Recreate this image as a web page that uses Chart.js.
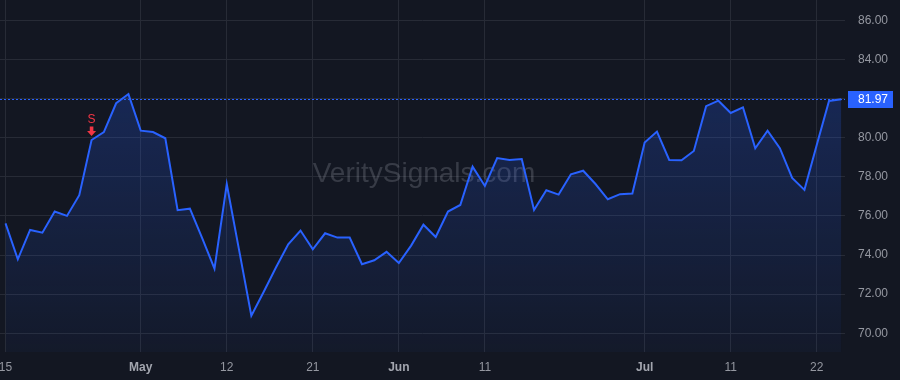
<!DOCTYPE html>
<html>
<head>
<meta charset="utf-8">
<script src="https://cdn.jsdelivr.net/npm/chart.js@4.4.1/dist/chart.umd.min.js"></script>
<style>
  html, body { margin: 0; padding: 0; background: #131722; }
  canvas { display: block; }
</style>
</head>
<body>
<canvas id="myChart" width="900" height="380"></canvas>
<script>
  // trading days, Apr 15 - Jul 24
  var dates = [
    'Apr 15','Apr 16','Apr 17','Apr 21','Apr 22','Apr 23','Apr 24','Apr 25','Apr 28','Apr 29','Apr 30',
    'May 1','May 2','May 5','May 6','May 7','May 8','May 9','May 12','May 13','May 14','May 15','May 16',
    'May 19','May 20','May 21','May 22','May 23','May 27','May 28','May 29','May 30',
    'Jun 2','Jun 3','Jun 4','Jun 5','Jun 6','Jun 9','Jun 10','Jun 11','Jun 12','Jun 13','Jun 16','Jun 17',
    'Jun 18','Jun 20','Jun 23','Jun 24','Jun 25','Jun 26','Jun 27','Jun 30',
    'Jul 1','Jul 2','Jul 3','Jul 7','Jul 8','Jul 9','Jul 10','Jul 11','Jul 14','Jul 15','Jul 16','Jul 17',
    'Jul 18','Jul 21','Jul 22','Jul 23','Jul 24'
  ];
  var prices = [
    75.62, 73.78, 75.28, 75.14, 76.22, 76.00, 77.06, 79.88, 80.28, 81.76, 82.23,
    80.36, 80.29, 79.97, 76.29, 76.37, 74.86, 73.30, 77.62, 74.26, 70.90, 72.11,
    73.36, 74.55, 75.25, 74.29, 75.11, 74.89, 74.89, 73.53, 73.73, 74.16,
    73.59, 74.48, 75.55, 74.92, 76.22, 76.56, 78.52, 77.53, 78.96, 78.86, 78.91,
    76.30, 77.31, 77.09, 78.13, 78.31, 77.63, 76.85, 77.11, 77.14,
    79.75, 80.31, 78.86, 78.84, 79.32, 81.61, 81.89, 81.26, 81.55, 79.46, 80.36,
    79.46, 77.94, 77.33, 79.63, 81.88, 81.97
  ];
  var tickIdx = [0, 11, 18, 25, 32, 39, 52, 59, 66];
  var tickText = ['15', 'May', '12', '21', 'Jun', '11', 'Jul', '11', '22'];
  var monthText = ['May', 'Jun', 'Jul'];
  var yTicks = [70, 72, 74, 76, 78, 80, 82, 84, 86];
  var signalIdx = [7];
  var signalText = ['S'];

  var fontFam = '"Liberation Sans", Arial, sans-serif';
  var gridCol = '#272b36';

  function noPad(s) {
    s.paddingTop = 0; s.paddingBottom = 0; s.paddingLeft = 0; s.paddingRight = 0;
  }

  var extras = {
    id: 'extras',
    beforeDatasetsDraw: function(chart) {
      var c = chart.ctx;
      c.save();
      c.font = '28px ' + fontFam;
      c.fillStyle = 'rgba(150,154,166,0.28)';
      c.textAlign = 'center';
      c.textBaseline = 'alphabetic';
      c.fillText('VeritySignals.com', 424, 182);
      c.restore();
    },
    afterDatasetsDraw: function(chart) {
      var c = chart.ctx, a = chart.chartArea;
      var xs = chart.scales.x, ys = chart.scales.y;
      var last = prices[prices.length - 1];
      var py = Math.round(ys.getPixelForValue(last)) + 0.5;
      c.save();
      // last price dashed line
      c.strokeStyle = '#2962ff';
      c.lineWidth = 1;
      c.setLineDash([2, 2]);
      c.beginPath();
      c.moveTo(a.left, py);
      c.lineTo(a.right, py);
      c.stroke();
      c.setLineDash([]);
      // price box
      c.fillStyle = '#2962ff';
      c.fillRect(a.right + 3, py - 8.5, 45, 17);
      c.fillStyle = '#ffffff';
      c.font = '12px ' + fontFam;
      c.textAlign = 'left';
      c.textBaseline = 'middle';
      c.fillText(last.toFixed(2), a.right + 13, py + 0.5);
      // signal markers
      for (var k = 0; k < signalIdx.length; k++) {
        var i = signalIdx[k];
        var sx = xs.getPixelForValue(i);
        var sy = ys.getPixelForValue(prices[i]);
        c.fillStyle = '#f23645';
        c.beginPath();
        c.moveTo(sx - 1.8, sy - 13.5);
        c.lineTo(sx + 1.8, sy - 13.5);
        c.lineTo(sx + 1.8, sy - 9);
        c.lineTo(sx + 4.5, sy - 9);
        c.lineTo(sx, sy - 4);
        c.lineTo(sx - 4.5, sy - 9);
        c.lineTo(sx - 1.8, sy - 9);
        c.closePath();
        c.fill();
        c.font = '12px ' + fontFam;
        c.textAlign = 'center';
        c.textBaseline = 'alphabetic';
        c.fillText(signalText[k], sx, sy - 17.5);
      }
      c.restore();
    }
  };

  var ctx = document.getElementById('myChart').getContext('2d');
  var chart = new Chart(ctx, {
    type: 'line',
    data: {
      labels: dates,
      datasets: [{
        label: 'Price',
        data: prices.map(function(v, i) { return { x: i, y: v }; }),
        borderColor: '#2962ff',
        borderWidth: 2,
        pointRadius: 0,
        tension: 0,
        fill: 'start',
        backgroundColor: function(context) {
          var a = context.chart.chartArea;
          if (!a) return 'rgba(41,98,255,0.15)';
          var g = context.chart.ctx.createLinearGradient(0, a.top, 0, a.bottom);
          g.addColorStop(0, 'rgba(41,98,255,0.30)');
          g.addColorStop(1, 'rgba(41,98,255,0.04)');
          return g;
        }
      }]
    },
    options: {
      responsive: false,
      animation: false,
      devicePixelRatio: 1,
      layout: { padding: 0 },
      plugins: { legend: { display: false }, tooltip: { enabled: false } },
      scales: {
        x: {
          type: 'linear',
          min: -0.45,
          max: 68.3,
          afterBuildTicks: function(s) { s.ticks = tickIdx.map(function(v) { return { value: v }; }); },
          afterFit: function(s) { s.height = 28; noPad(s); },
          grid: { color: gridCol, drawTicks: false },
          border: { display: false },
          ticks: {
            autoSkip: false,
            maxRotation: 0,
            padding: 8,
            color: function(c) { return monthText.indexOf(c.tick.label) >= 0 ? '#a3a6af' : '#9598a1'; },
            font: function(c) {
              var m = c.tick && monthText.indexOf(c.tick.label) >= 0;
              return { family: fontFam, size: 12, weight: m ? 'bold' : 'normal' };
            },
            callback: function(v) {
              var k = tickIdx.indexOf(v);
              return k >= 0 ? tickText[k] : '';
            }
          }
        },
        y: {
          position: 'right',
          min: 69.04,
          max: 87.04,
          afterBuildTicks: function(s) { s.ticks = yTicks.map(function(v) { return { value: v }; }); },
          afterFit: function(s) { s.width = 55; noPad(s); },
          grid: { color: gridCol, drawTicks: false },
          border: { display: false },
          ticks: {
            padding: 13,
            color: '#9598a1',
            font: { family: fontFam, size: 12 },
            callback: function(v) { return v.toFixed(2); }
          }
        }
      }
    },
    plugins: [extras]
  });
</script>
</body>
</html>
